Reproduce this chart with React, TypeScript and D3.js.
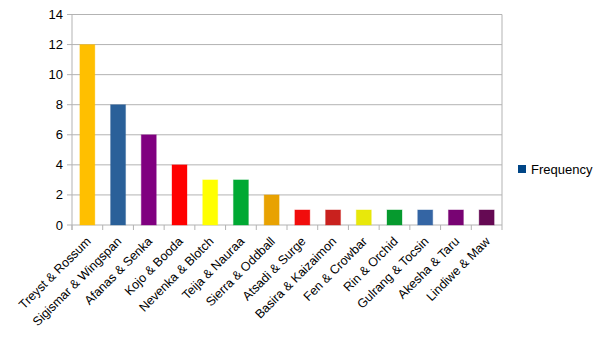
import React from "react";
import * as d3 from "d3";

const categories = [
  "Treyst & Rossum",
  "Sigismar & Wingspan",
  "Afanas & Senka",
  "Kojo & Booda",
  "Nevenka & Blotch",
  "Teija & Nauraa",
  "Sierra & Oddball",
  "Atsadi & Surge",
  "Basira & Kaizaimon",
  "Fen & Crowbar",
  "Rin & Orchid",
  "Gulrang & Tocsin",
  "Akesha & Taru",
  "Lindiwe & Maw",
];
const frequency = [12, 8, 6, 4, 3, 3, 2, 1, 1, 1, 1, 1, 1, 1];
const barColors = [
  "#ffbf00", "#2a6099", "#800080", "#ff0000", "#ffff00", "#00a933", "#e8a202",
  "#f10d0c", "#c9211e", "#e8e80a", "#069a2e", "#3465a4", "#780373", "#650953",
];
const yTicks = [0, 2, 4, 6, 8, 10, 12, 14];
const seriesName = "Frequency";

export default function App() {
  const W = 605, H = 340;
  const left = 72, right = 502, top = 14.5, bottom = 225;
  const xb = d3.scaleBand<string>().domain(categories).range([left, right]);
  const y = d3.scaleLinear().domain([0, 14]).range([bottom, top]);
  const font = "'Liberation Sans', Arial, sans-serif";
  return (
    <svg width={W} height={H} style={{ position: "absolute", left: 0, top: 0 }} fontFamily={font}>
      <rect width={W} height={H} fill="#fff" />
      {yTicks.map((t) => (
        <g key={t}>
          <line x1={left - 5} x2={right} y1={y(t)} y2={y(t)} stroke="#b3b3b3" strokeWidth={1} />
          <text x={left - 9} y={y(t)} dy="0.35em" textAnchor="end" fontSize={13} fill="#000">{t}</text>
        </g>
      ))}
      <line x1={left} x2={left} y1={top} y2={bottom + 5} stroke="#b3b3b3" />
      <line x1={right} x2={right} y1={top} y2={bottom + 5} stroke="#b3b3b3" />
      {categories.map((c, i) => (
        <line key={"t" + i} x1={xb(c)!} x2={xb(c)!} y1={bottom} y2={bottom + 5} stroke="#b3b3b3" />
      ))}
      {categories.map((c, i) => {
        const bw = 15;
        const cx = xb(c)! + xb.bandwidth() / 2;
        return (
          <rect key={c} x={cx - bw / 2} y={y(frequency[i])} width={bw} height={bottom - y(frequency[i])}
            fill={barColors[i]} stroke={barColors[i]} strokeOpacity={0.35} strokeWidth={1} />
        );
      })}
      {categories.map((c) => {
        const cx = xb(c)! + xb.bandwidth() / 2;
        return (
          <text key={"l" + c} transform={`translate(${cx - 2},${bottom + 11}) rotate(-45)`} textAnchor="end"
            dy="0.7em" fontSize={12.5} fill="#000">{c}</text>
        );
      })}
      <rect x={518} y={165} width={8} height={8} fill="#004586" />
      <text x={531} y={169} dy="0.35em" fontSize={13} fill="#000">{seriesName}</text>
    </svg>
  );
}
